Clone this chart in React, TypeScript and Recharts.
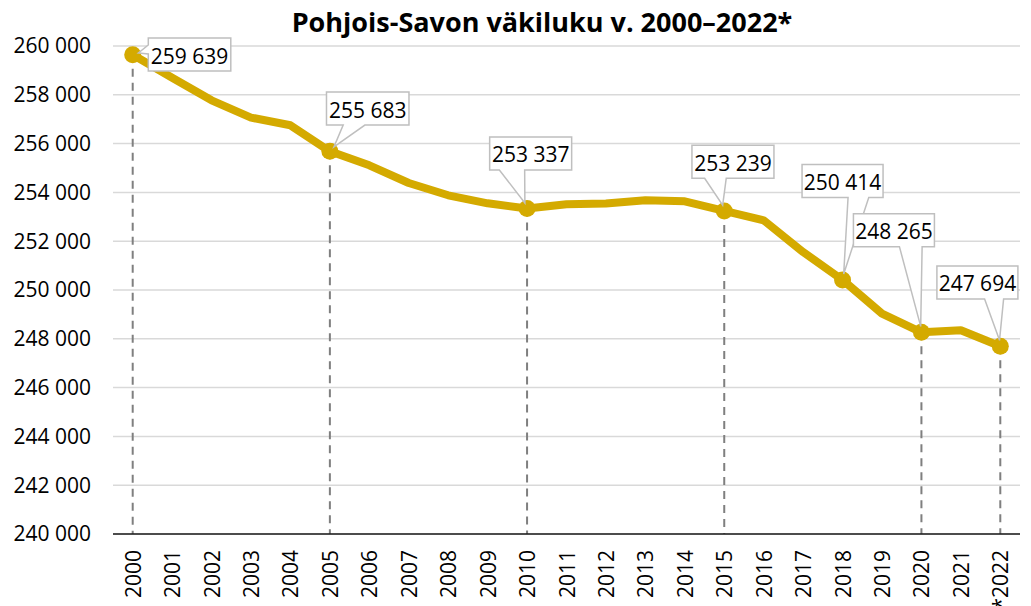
import React from 'react';
import { LineChart, Line, XAxis, YAxis, CartesianGrid, ReferenceLine, LabelList } from 'recharts';

const years = ['2000', '2001', '2002', '2003', '2004', '2005', '2006', '2007', '2008', '2009', '2010', '2011', '2012', '2013', '2014', '2015', '2016', '2017', '2018', '2019', '2020', '2021', '*2022'];
const population = [259639, 258700, 257775, 257066, 256750, 255683, 255110, 254385, 253881, 253553, 253337, 253512, 253541, 253676, 253635, 253239, 252857, 251557, 250414, 249033, 248265, 248348, 247694];
const labeledYears = ['2000', '2005', '2010', '2015', '2018', '2020', '*2022'];
const dropLineYears = ['2000', '2005', '2010', '2015', '2020', '*2022'];
const yTicks = [240000, 242000, 244000, 246000, 248000, 250000, 252000, 254000, 256000, 258000, 260000];
const title = 'Pohjois-Savon väkiluku v. 2000–2022*';

const data = years.map((year, i) => ({ year, value: population[i] }));

const GOLD = '#D4AA00';
const FONT = '"Open Sans", "Noto Sans", sans-serif';
const Y_MIN = 240000;

const fmt = (v: number) => String(v).replace(/\B(?=(\d{3})+(?!\d))/g, ' ');

type Callout = { dx: number; dy: number; w: number; h: number; side: 'left' | 'bottom'; b1: number; b2: number };
const CALLOUTS: Record<string, Callout> = {
  '2000': { dx: 15.6, dy: -16.8, w: 82.5, h: 33, side: 'left', b1: 7, b2: 16 },
  '2005': { dx: -3.4, dy: -59.3, w: 82.5, h: 33, side: 'bottom', b1: 16.7, b2: 38.4 },
  '2010': { dx: -37.4, dy: -71.6, w: 82, h: 33, side: 'bottom', b1: 9.7, b2: 35 },
  '2015': { dx: -32.3, dy: -65.7, w: 82, h: 33, side: 'bottom', b1: 12.7, b2: 34.3 },
  '2018': { dx: -40.5, dy: -115.3, w: 81, h: 33, side: 'bottom', b1: 46, b2: 66.7 },
  '2020': { dx: -68, dy: -118.7, w: 81, h: 33, side: 'bottom', b1: 46, b2: 68.7 },
  '*2022': { dx: -63.4, dy: -80.3, w: 81, h: 33, side: 'bottom', b1: 47.7, b2: 66.7 },
};

const XTick = (props: any) => {
  const { x, y, payload } = props;
  return (
    <text x={x} y={y} transform={`rotate(-90 ${x} ${y})`} textAnchor="end" dominantBaseline="central" fontSize={21} fontFamily={FONT} fill="#000">
      {payload.value}
    </text>
  );
};

const Dot = (props: any) => {
  const { cx, cy, payload, index } = props;
  if (!payload || !labeledYears.includes(payload.year)) return <g key={`d${index}`} />;
  return <circle key={`d${index}`} cx={cx} cy={cy} r={8.5} fill={GOLD} />;
};

const CalloutLabel = (props: any) => {
  const { index, value } = props;
  const px = props.x ?? props.viewBox?.x;
  const py = props.y ?? props.viewBox?.y;
  const year = years[index];
  const c = CALLOUTS[year];
  if (!c || px == null || py == null) return null;
  const l = px + c.dx;
  const t = py + c.dy;
  const r = l + c.w;
  const b = t + c.h;
  let d = '';
  let bx: number, by: number;
  if (c.side === 'bottom') {
    bx = l + (c.b1 + c.b2) / 2;
    by = b;
  } else {
    bx = l;
    by = t + (c.b1 + c.b2) / 2;
  }
  const len = Math.hypot(bx - px, by - py) || 1;
  const tx = px + ((bx - px) / len) * 6;
  const ty = py + ((by - py) / len) * 6;
  if (c.side === 'bottom') {
    d = `M${l},${t} L${r},${t} L${r},${b} L${l + c.b2},${b} L${tx},${ty} L${l + c.b1},${b} L${l},${b} Z`;
  } else {
    d = `M${l},${t} L${r},${t} L${r},${b} L${l},${b} L${l},${t + c.b2} L${tx},${ty} L${l},${t + c.b1} Z`;
  }
  return (
    <g>
      <path d={d} fill="#fff" stroke="#BFBFBF" strokeWidth={1.5} strokeLinejoin="miter" />
      <text x={l + c.w / 2} y={t + c.h / 2 + 1} textAnchor="middle" dominantBaseline="central" fontSize={21} fontFamily={FONT} fill="#000">
        {fmt(value)}
      </text>
    </g>
  );
};

export default function App() {
  return (
    <div style={{ position: 'absolute', left: 0, top: 0, width: 1031, height: 606, background: '#fff' }}>
      <div
        style={{
          position: 'absolute',
          left: 0,
          top: 5,
          width: 1084,
          textAlign: 'center',
          fontFamily: FONT,
          fontWeight: 700,
          fontSize: 27,
          lineHeight: '34px',
          color: '#000',
          whiteSpace: 'nowrap',
          zIndex: 2,
        }}
      >
        {title}
      </div>
      <LineChart width={1031} height={606} data={data} margin={{ top: 46, right: 11, bottom: 0, left: 0 }}>
        <CartesianGrid vertical={false} stroke="#D9D9D9" strokeWidth={1.5} />
        <XAxis
          dataKey="year"
          interval={0}
          height={72}
          padding={{ left: 19.7, right: 19.7 }}
          tickSize={0}
          tickMargin={16}
          tickLine={false}
          axisLine={{ stroke: '#1a1a1a', strokeWidth: 1.5 }}
          tick={<XTick />}
        />
        <YAxis
          width={113}
          domain={[240000, 260000]}
          ticks={yTicks}
          interval={0}
          axisLine={false}
          tickLine={false}
          tickSize={0}
          tickMargin={22}
          tickFormatter={fmt}
          tick={{ fontSize: 21, fontFamily: FONT, fill: '#000' }}
        />
        {dropLineYears.map((yr) => (
          <ReferenceLine
            key={yr}
            segment={[
              { x: yr, y: population[years.indexOf(yr)] },
              { x: yr, y: Y_MIN },
            ]}
            stroke="#7F7F7F"
            strokeWidth={2}
            strokeDasharray="8 6"
          />
        ))}
        <Line
          type="linear"
          dataKey="value"
          stroke={GOLD}
          strokeWidth={8}
          strokeLinejoin="round"
          dot={Dot}
          activeDot={false}
          isAnimationActive={false}
        >
          <LabelList dataKey="value" content={CalloutLabel} />
        </Line>
      </LineChart>
    </div>
  );
}
